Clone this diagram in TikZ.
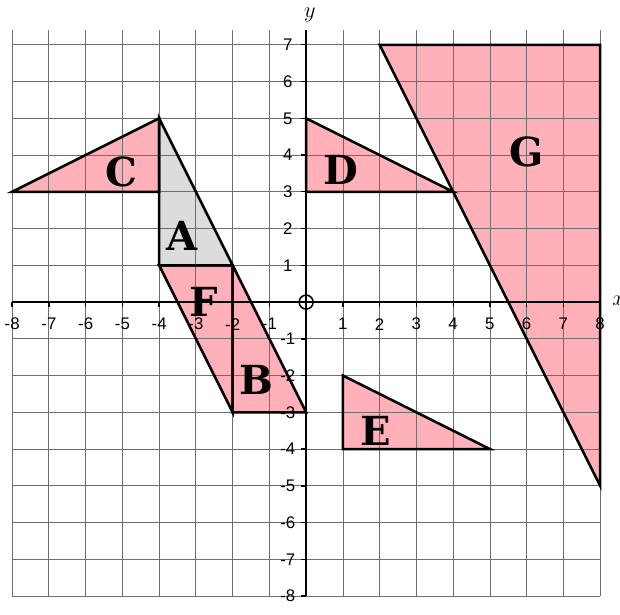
\documentclass[tikz,border=0pt]{standalone}
\usepackage{fontspec}
\setsansfont{Liberation Sans}
\newfontfamily\shapefont{DejaVu Serif}
\usetikzlibrary{positioning}
\definecolor{shapepink}{RGB}{255,176,184}
\definecolor{shapegray}{RGB}{220,220,220}
\definecolor{gridgray}{RGB}{110,110,110}

\begin{document}
\begin{tikzpicture}[
    shapeline/.style={black, line width=2pt, line join=miter},
    shapename/.style={font=\shapefont\bfseries\fontsize{31}{33}\selectfont},
    ticklabel/.style={font=\sffamily\fontsize{13}{15}\selectfont, inner sep=0pt},
    axisname/.style={font=\fontsize{16}{18}\selectfont, inner sep=0pt}]
    \useasboundingbox (-8.33,-8.49) rectangle (8.54,8.22);
    % --- fills first, so the grid shows through ---
    \fill[shapegray] (-4,5) -- (-4,1) -- (-2,1) -- cycle;
    \fill[shapepink] (-8,3) -- (-4,5) -- (-4,3) -- cycle;
    \fill[shapepink] (0,5) -- (0,3) -- (4,3) -- cycle;
    \fill[shapepink] (1,-2) -- (1,-4) -- (5,-4) -- cycle;
    \fill[shapepink] (-4,1) -- (-2,1) -- (-2,-3) -- cycle;
    \fill[shapepink] (-2,1) -- (-2,-3) -- (0,-3) -- cycle;
    \fill[shapepink] (2,7) -- (8,7) -- (8,-5) -- cycle;
    % --- grid ---
    \foreach \gx in {-8,...,8}
      \draw[gridgray, line width=0.6pt] (\gx,-8) -- (\gx,7.4);
    \foreach \gy in {-8,...,7}
      \draw[gridgray, line width=0.6pt] (-8,\gy) -- (8,\gy);
    % --- outlines ---
    \draw[shapeline] (-4,5) -- (-4,1) -- (-2,1) -- cycle;
    \draw[shapeline] (-8,3) -- (-4,5) -- (-4,3) -- cycle;
    \draw[shapeline] (0,5) -- (0,3) -- (4,3) -- cycle;
    \draw[shapeline] (1,-2) -- (1,-4) -- (5,-4) -- cycle;
    \draw[shapeline] (-4,1) -- (-2,1) -- (-2,-3) -- cycle;
    \draw[shapeline] (-2,1) -- (-2,-3) -- (0,-3) -- cycle;
    \draw[shapeline] (2,7) -- (8,7) -- (8,-5) -- cycle;
    % --- axes, ticks and numbers ---
    \draw[black, line width=1.6pt] (-8,0) -- (8,0);
    \draw[black, line width=1.6pt] (0,-8) -- (0,7.4);
    \foreach \tx in {-8,...,-1,1,2,...,8} {
      \draw[black, line width=1pt] (\tx,0) -- (\tx,-0.14);
      \node[ticklabel] at (\tx,-0.6) {\tx};
    }
    \foreach \ty in {-8,...,-1,1,2,...,7} {
      \draw[black, line width=1pt] (0,\ty) -- (-0.14,\ty);
      \node[ticklabel] at (-0.5,\ty) {\ty};
    }
    \draw[black, line width=1.2pt] (0,0) circle (0.19);
    \node[axisname] (ylabel) at (0.1,7.82) {$y$};
    \node[axisname] (xlabel) at (8.5,0.05) {$x$};
    % --- shape names ---
    \node[shapename] (nameA) at (-3.37,1.8) {A};
    \node[shapename] (nameB) at (-1.36,-2.12) {B};
    \node[shapename] (nameC) at (-5.03,3.54) {C};
    \node[shapename] (nameD) at (0.95,3.59) {D};
    \node[shapename] (nameE) at (1.9,-3.51) {E};
    \node[shapename] (nameF) at (-2.78,0) {F};
    \node[shapename] (nameG) at (6.01,4.08) {G};
\end{tikzpicture}
\end{document}
